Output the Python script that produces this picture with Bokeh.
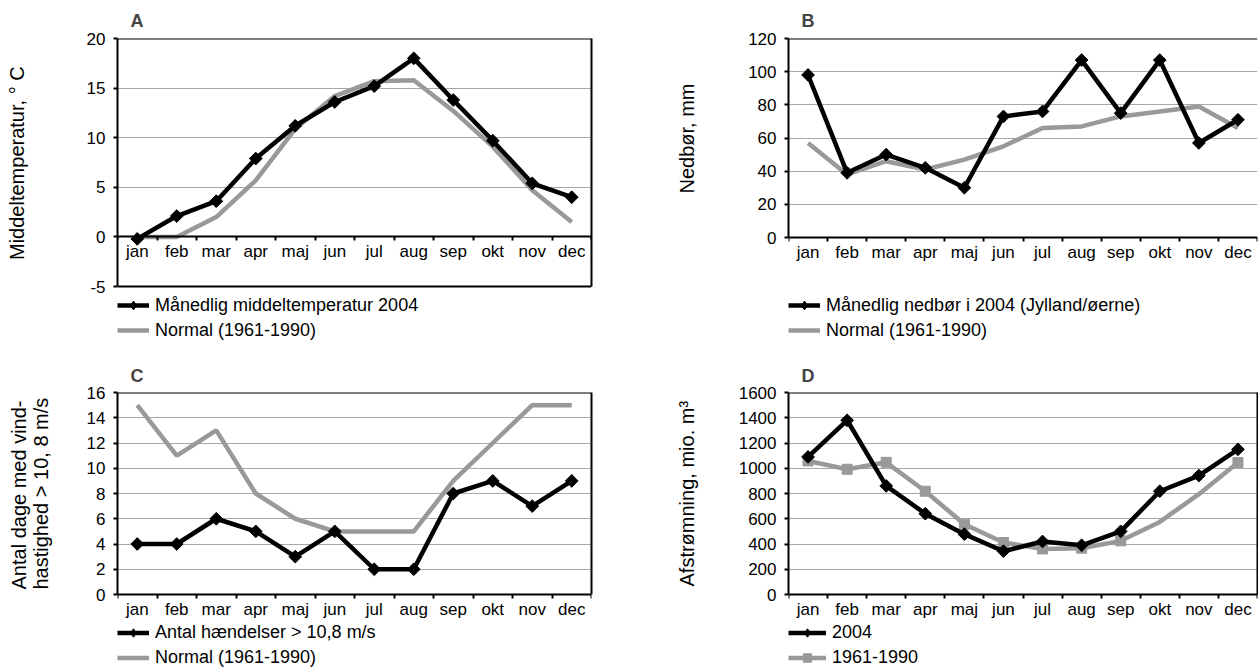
import math
from bokeh.plotting import figure
from bokeh.models import (Range1d, FixedTicker, CustomJSTickFormatter, Legend, LegendItem,
                          LinearAxis, Span, Title)
from bokeh.layouts import column, row
from bokeh.embed import file_html
from bokeh.resources import INLINE

# ---------------- data ----------------
months = ["jan", "feb", "mar", "apr", "maj", "jun", "jul", "aug", "sep", "okt", "nov", "dec"]

temp_2004 = [-0.2, 2.1, 3.6, 7.9, 11.2, 13.6, 15.2, 18.0, 13.8, 9.7, 5.4, 4.0]
temp_normal = [0.0, 0.0, 2.0, 5.7, 10.9, 14.2, 15.7, 15.8, 12.7, 9.1, 4.7, 1.5]

precip_2004 = [98, 39, 50, 42, 30, 73, 76, 107, 75, 107, 57, 71]
precip_normal = [57, 38, 46, 41, 47, 55, 66, 67, 73, 76, 79, 66]

wind_2004 = [4, 4, 6, 5, 3, 5, 2, 2, 8, 9, 7, 9]
wind_normal = [15, 11, 13, 8, 6, 5, 5, 5, 9, 12, 15, 15]

runoff_2004 = [1090, 1380, 860, 640, 478, 343, 420, 390, 500, 818, 942, 1150]
runoff_normal = [1058, 992, 1047, 818, 557, 412, 361, 367, 425, 575, 795, 1045]
runoff_normal_marked = [True, True, True, True, True, True, True, True, True, False, False, True]

# ---------------- style ----------------
FONT = "Liberation Sans"
BLACK = "#000000"
GRAY = "#999999"
GRID = "#a8a8a8"
LW = 4.5
DIAMOND = dict(marker="square", angle=math.pi / 4, size=9, fill_color=BLACK, line_color=BLACK)
LEG_DIAMOND = dict(marker="diamond", size=11, fill_color=BLACK, line_color=BLACK)


def make_panel(letter, ylabel, label_len, ymin, ymax, ystep, width, height, left, right, top,
               data_px, below_px, label_gap, title_standoff,
               box_bottom=False, right_border=True):
    # the frame runs down to the figure's bottom so that the legend sits inside it
    low = ymin - below_px * (ymax - ymin) / data_px
    p = figure(width=width, height=height, x_range=Range1d(0, 12), y_range=Range1d(low, ymax),
               output_backend="svg", toolbar_location=None,
               min_border_left=left, min_border_right=right,
               min_border_top=top, min_border_bottom=0, title=letter)
    p.background_fill_color = "white"
    p.border_fill_color = "white"
    p.outline_line_color = None

    p.title.text_font = FONT
    p.title.text_font_size = "18px"
    p.title.text_font_style = "bold"
    p.title.align = "left"
    p.title.offset = 13
    p.title.standoff = title_standoff

    n = len(months)
    xa = p.xaxis[0]
    xa.fixed_location = 0
    xa.ticker = FixedTicker(ticks=[i + 0.5 for i in range(n)], minor_ticks=list(range(n + 1)))
    xa.formatter = CustomJSTickFormatter(args=dict(months=months),
                                         code="return months[Math.floor(tick)]")
    xa.major_tick_line_color = None
    xa.major_tick_out = 0
    xa.major_tick_in = 0
    xa.minor_tick_line_color = BLACK
    xa.minor_tick_line_width = 2
    xa.minor_tick_out = 4
    xa.minor_tick_in = 0
    xa.axis_line_color = BLACK
    xa.axis_line_width = 2
    xa.major_label_text_font = FONT
    xa.major_label_text_font_size = "17px"
    xa.major_label_text_color = BLACK
    xa.major_label_standoff = 1

    ya = p.yaxis[0]
    yt = FixedTicker(ticks=list(range(ymin, ymax + 1, ystep)))
    ya.ticker = yt
    ya.bounds = (ymin, ymax)
    ya.formatter = CustomJSTickFormatter(code="return tick.toString()")
    ya.major_label_text_font = FONT
    ya.major_label_text_font_size = "17px"
    ya.major_label_text_color = BLACK
    ya.major_label_standoff = 8
    ya.major_tick_out = 4
    ya.major_tick_in = 0
    ya.major_tick_line_width = 2
    ya.major_tick_line_color = BLACK
    ya.minor_tick_line_color = None
    ya.axis_line_color = BLACK
    ya.axis_line_width = 2

    # y-axis title: a spacer keeps it away from the tick labels, and it is
    # centred on the data part of the frame (not on the whole frame)
    p.add_layout(Title(text=" ", text_font_size="1px", standoff=label_gap), "left")
    yt_title = Title(text=ylabel, align="left", offset=below_px + data_px / 2 - label_len / 2,
                     standoff=0, text_font=FONT, text_font_size="20px",
                     text_font_style="normal", text_color=BLACK)
    p.add_layout(yt_title, "left")

    p.xgrid.visible = False
    p.ygrid.ticker = yt
    p.ygrid.grid_line_color = GRID
    p.ygrid.grid_line_width = 1

    # box borders
    p.add_layout(Span(location=ymax, dimension="width", line_color=BLACK, line_width=2))
    if box_bottom:
        p.add_layout(Span(location=ymin, dimension="width", line_color=BLACK, line_width=2))
    if right_border:
        ra = LinearAxis(bounds=(ymin, ymax), ticker=FixedTicker(ticks=[]),
                        axis_line_color=BLACK, axis_line_width=2,
                        major_tick_line_color=None, minor_tick_line_color=None,
                        major_tick_out=0, major_tick_in=0, major_label_standoff=0,
                        major_label_text_font_size="0px")
        p.add_layout(ra, "right")
    return p


def legend(p, items, loc, item_h=22, spacing=3, glyph_w=32):
    leg = Legend(items=items, location=loc, orientation="vertical", margin=0, padding=0,
                 spacing=spacing, glyph_width=glyph_w, glyph_height=item_h, label_height=item_h,
                 label_standoff=6, label_text_font=FONT, label_text_font_size="18px",
                 label_text_color=BLACK, border_line_color=None, background_fill_alpha=0)
    p.add_layout(leg)


def black_series(p, xs, ys):
    line = p.line(xs, ys, line_color=BLACK, line_width=LW)
    key = p.scatter(xs, ys, **LEG_DIAMOND)   # drawn under the markers, used by the legend
    p.scatter(xs, ys, **DIAMOND)
    return line, key


x = [i + 0.5 for i in range(len(months))]

# ---------------- A ----------------
pa = make_panel("A", "Middeltemperatur, \u00b0 C", 195, -5, 20, 5, 629, 345, 117, 38, 38,
                248, 59, 53, 15, box_bottom=True)
ga = pa.line(x, temp_normal, line_color=GRAY, line_width=LW)
la, ka = black_series(pa, x, temp_2004)
legend(pa, [LegendItem(label="M\u00e5nedlig middeltemperatur 2004", renderers=[la, ka]),
            LegendItem(label="Normal (1961-1990)", renderers=[ga])], (0, 4))

# ---------------- B ----------------
pb = make_panel("B", "Nedb\u00f8r, mm", 111, 0, 120, 20, 629, 345, 159, 1, 38,
                199, 108, 45, 15, right_border=False)
gb = pb.line(x, precip_normal, line_color=GRAY, line_width=LW)
lb, kb = black_series(pb, x, precip_2004)
legend(pb, [LegendItem(label="M\u00e5nedlig nedb\u00f8r i 2004 (Jylland/\u00f8erne)", renderers=[lb, kb]),
            LegendItem(label="Normal (1961-1990)", renderers=[gb])], (0, 4))

# ---------------- C ----------------
pc = make_panel("C", "Antal dage med vind-\nhastighed > 10, 8 m/s", 192, 0, 16, 2, 629, 323,
                117, 38, 47, 202, 74, 29, 13)
gc = pc.line(x, wind_normal, line_color=GRAY, line_width=LW)
lc, kc = black_series(pc, x, wind_2004)
legend(pc, [LegendItem(label="Antal h\u00e6ndelser > 10,8 m/s", renderers=[lc, kc]),
            LegendItem(label="Normal (1961-1990)", renderers=[gc])], (0, 0), 21, 4)

# ---------------- D ----------------
pd_ = make_panel("D", "Afstr\u00f8mning, mio. m\u00b3", 186, 0, 1600, 200, 629, 323, 159, 1, 47,
                 202, 74, 35, 13)
gd = pd_.line(x, runoff_normal, line_color=GRAY, line_width=LW)
xm = [xi for xi, m in zip(x, runoff_normal_marked) if m]
ym = [yi for yi, m in zip(runoff_normal, runoff_normal_marked) if m]
gsd = pd_.scatter(xm, ym, marker="square", size=10, fill_color=GRAY, line_color=GRAY)
ld, kd = black_series(pd_, x, runoff_2004)
legend(pd_, [LegendItem(label="2004", renderers=[ld, kd]),
             LegendItem(label="1961-1990", renderers=[gd, gsd])], (0, 0), 21, 4, 38)

layout = column(row(pa, pb, spacing=0), row(pc, pd_, spacing=0), spacing=0)

with open("out.html", "w") as f:
    f.write(file_html(layout, INLINE))
